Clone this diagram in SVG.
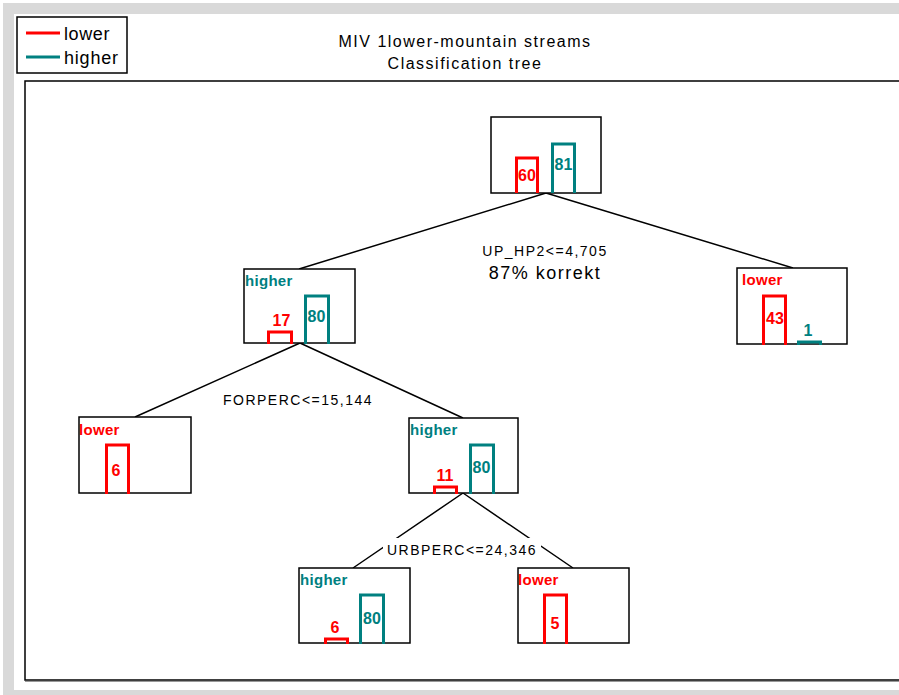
<svg xmlns="http://www.w3.org/2000/svg" width="899" height="695" viewBox="0 0 899 695">
<style>
text{font-family:"Liberation Sans",Arial,sans-serif}
.box{fill:#fff;stroke:#000;stroke-width:1.5}
.edge{stroke:#000;stroke-width:1.5;fill:none}
.rb{fill:none;stroke:#ff0000;stroke-width:3}
.tb{fill:none;stroke:#008080;stroke-width:3}
.num{font-size:16px;font-weight:bold;text-anchor:middle}
.lab{font-size:15px;font-weight:bold;letter-spacing:0.3px}
.red{fill:#ff0000}
.teal{fill:#008080}
.split{font-size:14px;letter-spacing:1.5px;text-anchor:middle;fill:#000}
</style>
<rect x="0" y="0" width="899" height="695" fill="#fff"/>
<rect x="3" y="3" width="896" height="692" fill="#d9d9d9"/>
<rect x="14" y="14" width="885" height="676" fill="#fff"/>
<g id="legend">
<rect x="17" y="17" width="110" height="56" class="box"/>
<line x1="26" y1="33" x2="60" y2="33" stroke="#ff0000" stroke-width="3"/>
<line x1="26" y1="57" x2="60" y2="57" stroke="#008080" stroke-width="3"/>
<text x="64" y="40" font-size="18" letter-spacing="0.6">lower</text>
<text x="64" y="64" font-size="18" letter-spacing="0.8">higher</text>
</g>
<g id="title">
<text x="465" y="47" font-size="16" letter-spacing="1.5" text-anchor="middle">MIV 1lower-mountain streams</text>
<text x="465" y="69" font-size="16" letter-spacing="1.5" text-anchor="middle">Classification tree</text>
</g>
<g id="plot">
<rect x="25" y="81" width="890" height="599" fill="none" stroke="#000" stroke-width="1.5"/>
<line x1="25" y1="681.5" x2="899" y2="681.5" stroke="#999" stroke-width="1"/>
</g>
<g id="connectors">
<path class="edge" d="M546 193 L299 269 M546 193 L793 268 M300 343 L135 417 M300 343 L463 418 M463 493 L353 568 M463 493 L573 568"/>
</g>
<g id="n-root">
<rect x="491" y="117" width="110" height="76" class="box"/>
<path class="rb" d="M516.5 193 V158 H537.5 V193"/>
<path class="tb" d="M552.5 193 V144 H574.5 V193"/>
<text x="527" y="181" class="num red">60</text>
<text x="563.5" y="170" class="num teal">81</text>
</g>
<g id="n-left">
<rect x="244" y="269" width="111" height="74" class="box"/>
<text x="245" y="286" class="lab teal">higher</text>
<path class="rb" d="M268.5 344 V332 H291.5 V344"/>
<path class="tb" d="M305.5 344 V296 H328.5 V344"/>
<text x="281.5" y="326" class="num red">17</text>
<text x="316.5" y="322" class="num teal">80</text>
</g>
<g id="n-right">
<rect x="737" y="268" width="110" height="76" class="box"/>
<text x="742" y="285" class="lab red">lower</text>
<path class="rb" d="M763.5 345 V296 H785.5 V345"/>
<path class="tb" d="M798.5 345 V342 H820.5 V345"/>
<text x="775" y="324" class="num red">43</text>
<text x="808" y="336" class="num teal">1</text>
</g>
<g id="n-ll">
<rect x="79" y="417" width="112" height="76" class="box"/>
<text x="79" y="435" class="lab red">lower</text>
<path class="rb" d="M106.5 494 V445 H128.5 V494"/>
<text x="116" y="476" class="num red">6</text>
</g>
<g id="n-lr">
<rect x="409" y="418" width="109" height="75" class="box"/>
<text x="410" y="435" class="lab teal">higher</text>
<path class="rb" d="M434.5 494 V487 H456.5 V494"/>
<path class="tb" d="M470.5 494 V445 H493.5 V494"/>
<text x="445" y="481" class="num red">11</text>
<text x="481.5" y="473" class="num teal">80</text>
</g>
<g id="n-bl">
<rect x="299" y="568" width="111" height="75" class="box"/>
<text x="300" y="585" class="lab teal">higher</text>
<path class="rb" d="M325.5 644 V639 H347.5 V644"/>
<path class="tb" d="M360.5 644 V595 H383.5 V644"/>
<text x="335" y="633" class="num red">6</text>
<text x="372" y="624" class="num teal">80</text>
</g>
<g id="n-br">
<rect x="518" y="568" width="111" height="75" class="box"/>
<text x="518" y="585" class="lab red">lower</text>
<path class="rb" d="M544.5 644 V595 H566.5 V644"/>
<text x="555" y="629" class="num red">5</text>
</g>
<g id="split-labels">
<text x="545" y="256" class="split">UP_HP2&lt;=4,705</text>
<text x="545" y="279" font-size="18" letter-spacing="1.5" text-anchor="middle">87% korrekt</text>
<text x="298" y="405" class="split">FORPERC&lt;=15,144</text>
<rect x="383" y="538" width="158" height="18" fill="#fff"/>
<text x="462" y="555" class="split">URBPERC&lt;=24,346</text>
</g>
</svg>
